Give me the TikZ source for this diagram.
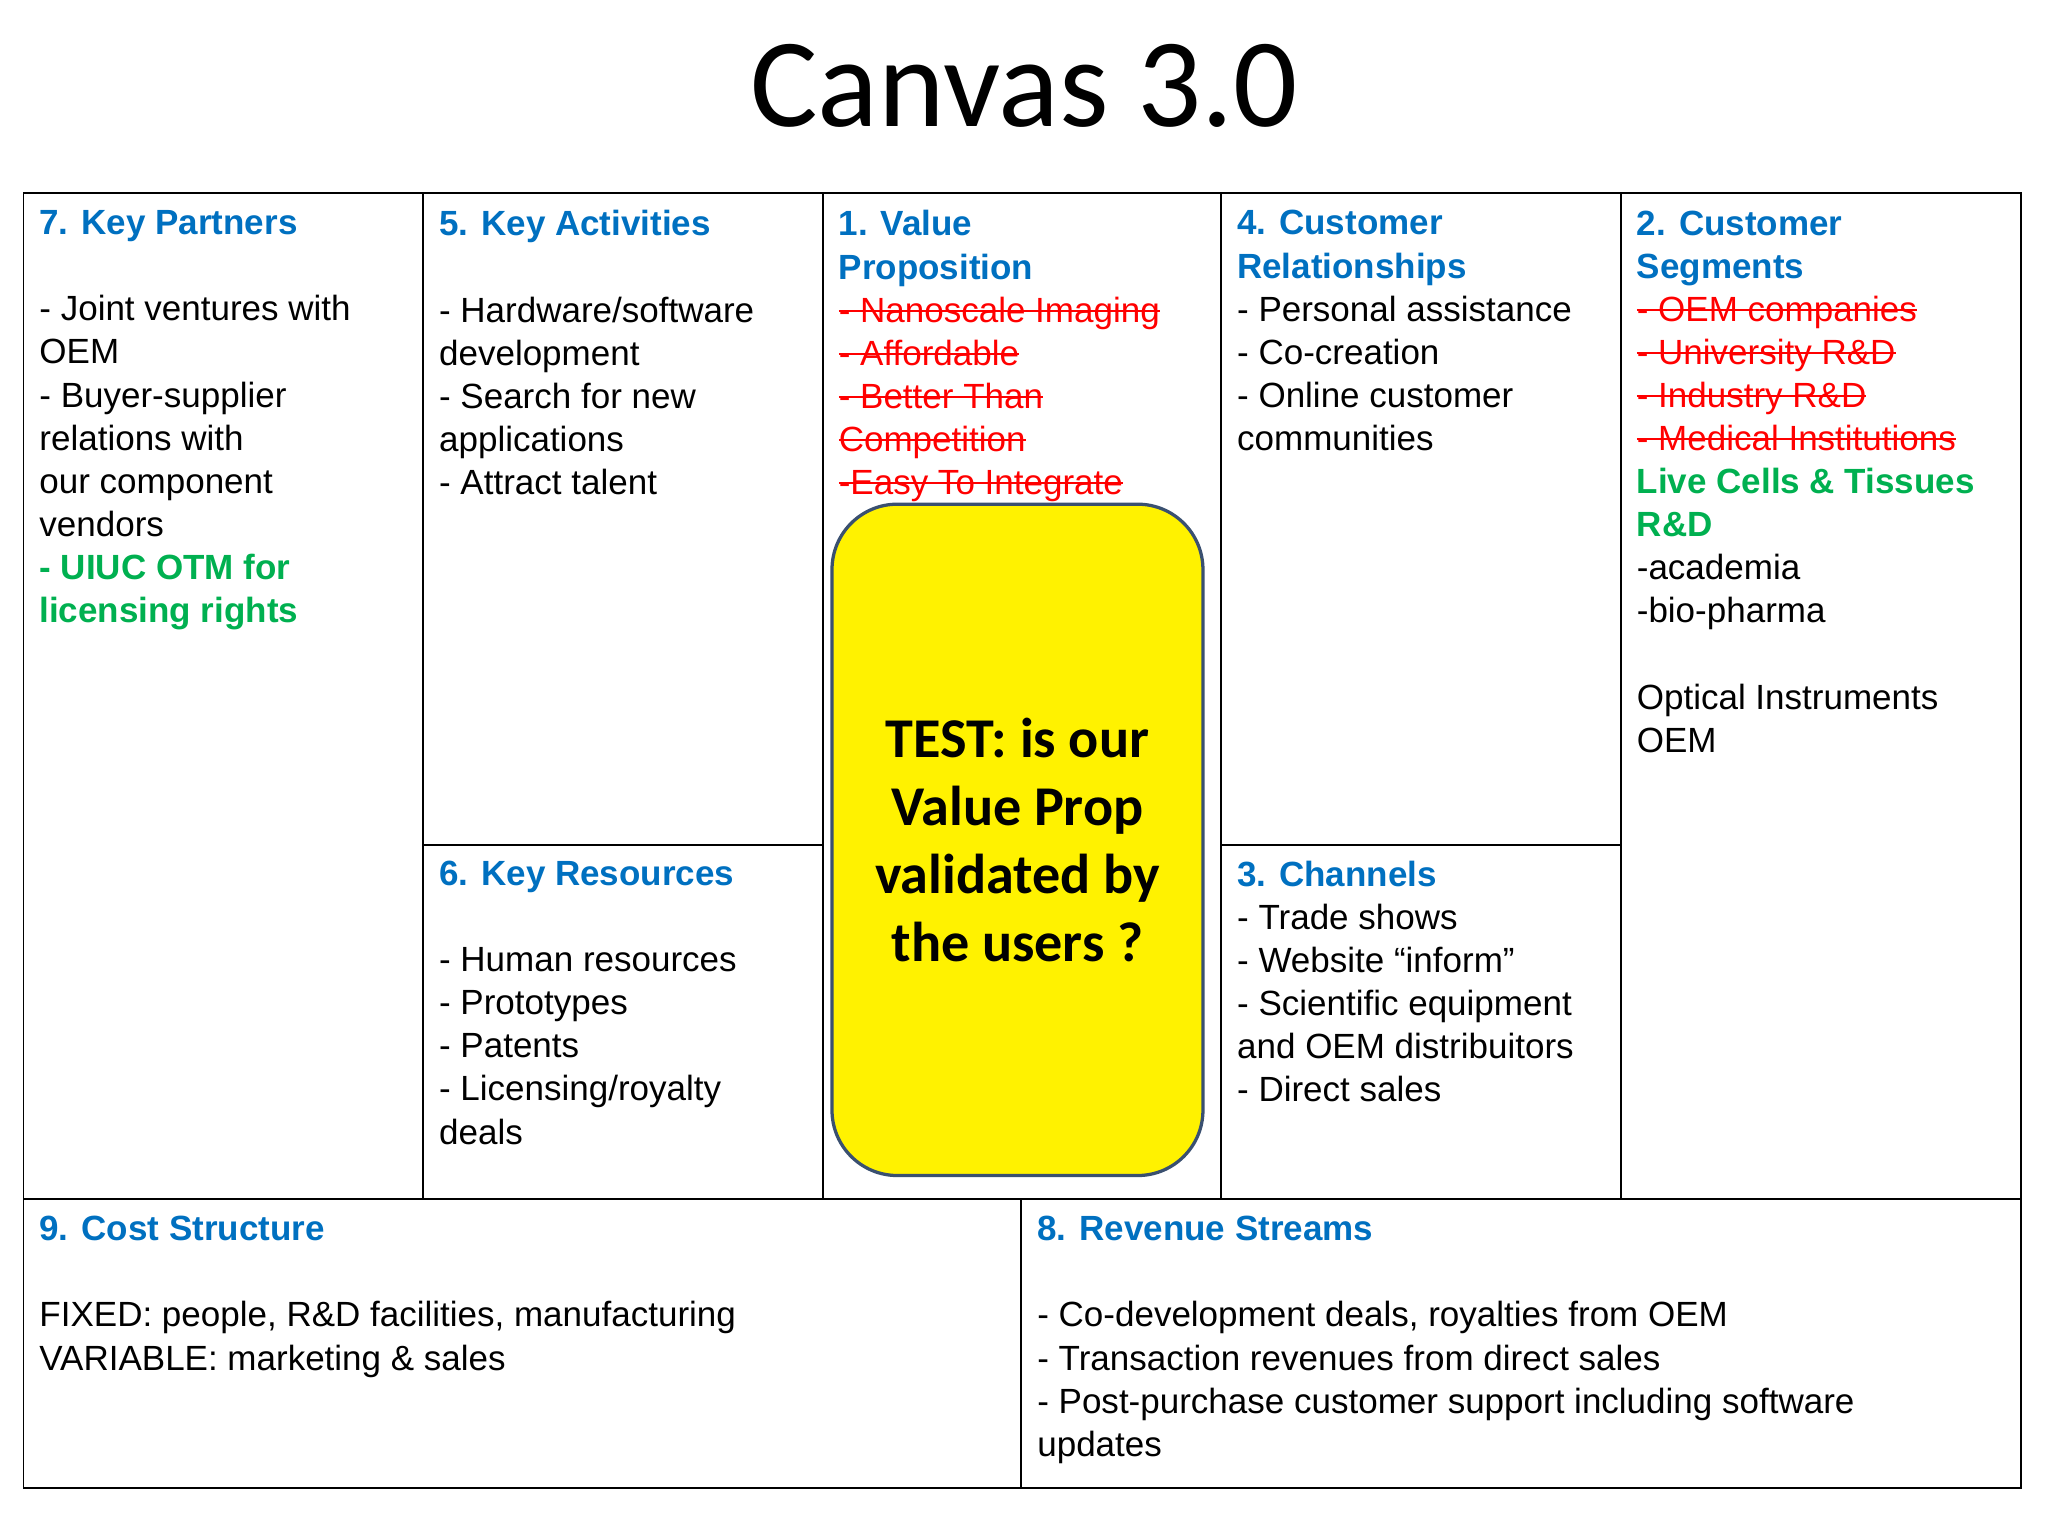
\documentclass[tikz,border=0pt]{standalone}
\usepackage{fontspec}
\setmainfont{Liberation Sans}
\newfontfamily\carlitofont{Carlito}
\definecolor{hb}{HTML}{0070C0}
\definecolor{hg}{HTML}{00B050}
\definecolor{hr}{HTML}{FF0000}
\definecolor{edge}{HTML}{3A5070}
\newsavebox{\stbox}
\newcommand{\hd}[1]{\textcolor{hb}{\textbf{#1}}}
\newcommand{\gn}[1]{\textcolor{hg}{\textbf{#1}}}
\newcommand{\st}[1]{{\color{hr}\sbox{\stbox}{#1}\rlap{\rule[0.3em]{\wd\stbox}{1.5pt}}\usebox{\stbox}}}
\tikzset{cell/.style={anchor=north west,inner sep=0pt,align=left,font=\fontsize{26.8}{33}\selectfont}}
\begin{document}
\begin{tikzpicture}[x=1pt,y=-1pt]
\useasboundingbox (0,0) rectangle (1568,1176);
\node[font=\carlitofont\fontsize{97}{99}\selectfont] (title) at (784,66) {Canvas 3.0};
\draw[line width=1.5pt] (18,148) rectangle (1547,1139);
\draw[line width=1.5pt] (18,918) -- (1547,918);
\draw[line width=1.5pt] (324,148) -- (324,918) (630,148) -- (630,918) (935,148) -- (935,918) (1241,148) -- (1241,918);
\draw[line width=1.5pt] (324,647) -- (630,647) (935,647) -- (1241,647);
\draw[line width=1.5pt] (782,918) -- (782,1139);
\node[cell] (kp) at (30,161) {\hd{7. Key Partners}\\~\\- Joint ventures with\\OEM\\- Buyer-supplier\\relations with\\our component\\vendors\\\gn{- UIUC OTM for}\\\gn{licensing rights}};
\node[cell] (ka) at (336,161) {\hd{5. Key Activities}\\~\\- Hardware/software\\development\\- Search for new\\applications\\- Attract talent};
\node[cell] (kr) at (336,659) {\hd{6. Key Resources}\\~\\- Human resources\\- Prototypes\\- Patents\\- Licensing/royalty\\deals};
\node[cell] (vp) at (642,161) {\hd{1. Value}\\\hd{Proposition}\\\st{- Nanoscale Imaging}\\\st{- Affordable}\\\st{- Better Than}\\\st{Competition}\\\st{-Easy To Integrate}};
\node[cell] (cr) at (947,161) {\hd{4. Customer}\\\hd{Relationships}\\- Personal assistance\\- Co-creation\\- Online customer\\communities};
\node[cell] (ch) at (947,659) {\hd{3. Channels}\\- Trade shows\\- Website “inform”\\- Scientific equipment\\and OEM distribuitors\\- Direct sales};
\node[cell] (cs) at (1253,161) {\hd{2. Customer}\\\hd{Segments}\\\st{- OEM companies}\\\st{- University R\&D}\\\st{- Industry R\&D}\\\st{- Medical Institutions}\\\gn{Live Cells \& Tissues}\\\gn{R\&D}\\-academia\\-bio-pharma\\~\\Optical Instruments\\OEM};
\node[cell] (cost) at (30,931) {\hd{9. Cost Structure}\\~\\FIXED: people, R\&D facilities, manufacturing\\VARIABLE: marketing \& sales};
\node[cell] (rev) at (794,931) {\hd{8. Revenue Streams}\\~\\- Co-development deals, royalties from OEM\\- Transaction revenues from direct sales\\- Post-purchase customer support including software\\updates};
\draw[fill=yellow,draw=edge,line width=2.5pt,rounded corners=50pt] (637,386) rectangle (921,900);
\node[font=\carlitofont\bfseries\fontsize{43}{52}\selectfont,align=center] (test) at (779,643) {TEST: is our\\Value Prop\\validated by\\the users ?};
\end{tikzpicture}
\end{document}
